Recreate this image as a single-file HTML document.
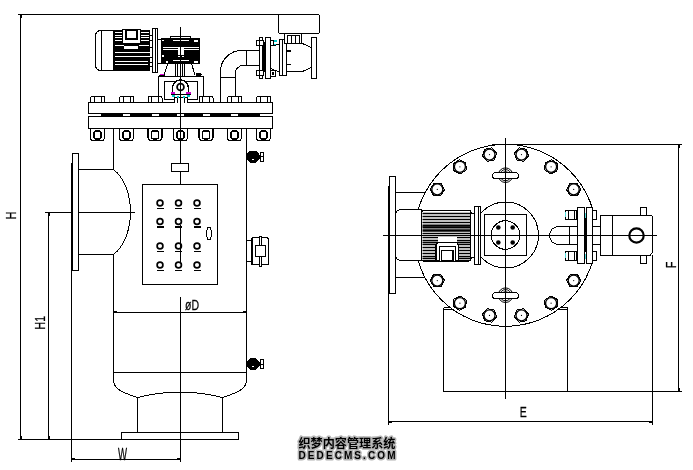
<!DOCTYPE html>
<html><head><meta charset="utf-8"><title>drawing</title>
<style>
html,body{margin:0;padding:0;background:#fff;}
body{width:693px;height:470px;overflow:hidden;font-family:"Liberation Sans","Noto Sans CJK SC",sans-serif;}
svg{display:block;will-change:transform}
svg text{font-family:"Liberation Sans","Noto Sans CJK SC",sans-serif;fill:#000}
</style></head><body>
<svg shape-rendering="crispEdges" width="693" height="470" viewBox="0 0 693 470">
<rect x="0" y="0" width="693" height="470" fill="#fff"/>
<g id="left">
<line x1="20.5" y1="14.5" x2="20.5" y2="439.5" stroke="#000" stroke-width="1" />
<line x1="18" y1="14.5" x2="278.5" y2="14.5" stroke="#000" stroke-width="1" />
<line x1="18" y1="439.5" x2="121.5" y2="439.5" stroke="#000" stroke-width="1" />
<line x1="48.5" y1="212.5" x2="48.5" y2="439.5" stroke="#000" stroke-width="1" />
<line x1="45" y1="212.5" x2="135" y2="212.5" stroke="#000" stroke-width="1" />
<line x1="71.5" y1="163" x2="71.5" y2="462" stroke="#000" stroke-width="1" />
<line x1="71.5" y1="459.5" x2="180.5" y2="459.5" stroke="#000" stroke-width="1" />
<path d="M113.5,128.5 V169.5 M113.5,254.5 V380 C113.5,388 120,392 137.5,397.5 Q160,392 180,392 Q200,392 222.5,397.5 C240,392 246.5,388 246.5,380 V128.5" fill="none" stroke="#000" stroke-width="1" />
<line x1="113.5" y1="372.5" x2="246.5" y2="372.5" stroke="#000" stroke-width="1" />
<line x1="113.5" y1="312.5" x2="246.5" y2="312.5" stroke="#000" stroke-width="1" />
<line x1="137.5" y1="397.5" x2="137.5" y2="432.5" stroke="#000" stroke-width="1" />
<line x1="222.5" y1="397.5" x2="222.5" y2="432.5" stroke="#000" stroke-width="1" />
<rect x="121.5" y="432.5" width="117" height="7" fill="none" stroke="#000" stroke-width="1" rx="0"/>
<rect x="88.5" y="102.5" width="184" height="11" fill="#fff" stroke="#000" stroke-width="1" rx="0"/>
<rect x="88.5" y="116.5" width="184" height="12" fill="#fff" stroke="#000" stroke-width="1" rx="0"/>
<rect x="94" y="113.5" width="173" height="3" fill="#000" stroke="#000" stroke-width="0" rx="0"/>
<rect x="94.0" y="114" width="7" height="2" fill="#fff" stroke="#000" stroke-width="0" rx="0"/>
<rect x="123.0" y="114" width="7" height="2" fill="#fff" stroke="#000" stroke-width="0" rx="0"/>
<rect x="151.5" y="114" width="7" height="2" fill="#fff" stroke="#000" stroke-width="0" rx="0"/>
<rect x="177.0" y="114" width="7" height="2" fill="#fff" stroke="#000" stroke-width="0" rx="0"/>
<rect x="202.5" y="114" width="7" height="2" fill="#fff" stroke="#000" stroke-width="0" rx="0"/>
<rect x="231.0" y="114" width="7" height="2" fill="#fff" stroke="#000" stroke-width="0" rx="0"/>
<rect x="260.0" y="114" width="7" height="2" fill="#fff" stroke="#000" stroke-width="0" rx="0"/>
<path d="M90.5,102.5 V98 Q90.5,96.5 92.0,96.5 H103.0 Q104.5,96.5 104.5,98 V102.5 Z" fill="#fff" stroke="#000" stroke-width="1" />
<line x1="94.0" y1="96.5" x2="94.0" y2="102.5" stroke="#000" stroke-width="1" />
<line x1="101.0" y1="96.5" x2="101.0" y2="102.5" stroke="#000" stroke-width="1" />
<path d="M90.5,128.5 V137 Q90.5,140.5 93.5,140.5 H101.5 Q104.5,140.5 104.5,137 V128.5" fill="#fff" stroke="#000" stroke-width="1.2" />
<rect x="94.0" y="131" width="7" height="8" fill="#fff" stroke="#000" stroke-width="1.3" rx="2"/>
<path d="M119.5,102.5 V98 Q119.5,96.5 121.0,96.5 H132.0 Q133.5,96.5 133.5,98 V102.5 Z" fill="#fff" stroke="#000" stroke-width="1" />
<line x1="123.0" y1="96.5" x2="123.0" y2="102.5" stroke="#000" stroke-width="1" />
<line x1="130.0" y1="96.5" x2="130.0" y2="102.5" stroke="#000" stroke-width="1" />
<path d="M119.5,128.5 V137 Q119.5,140.5 122.5,140.5 H130.5 Q133.5,140.5 133.5,137 V128.5" fill="#fff" stroke="#000" stroke-width="1.2" />
<rect x="123.0" y="131" width="7" height="8" fill="#fff" stroke="#000" stroke-width="1.3" rx="2"/>
<path d="M148,102.5 V98 Q148,96.5 149.5,96.5 H160.5 Q162,96.5 162,98 V102.5 Z" fill="#fff" stroke="#000" stroke-width="1" />
<line x1="151.5" y1="96.5" x2="151.5" y2="102.5" stroke="#000" stroke-width="1" />
<line x1="158.5" y1="96.5" x2="158.5" y2="102.5" stroke="#000" stroke-width="1" />
<path d="M148,128.5 V137 Q148,140.5 151,140.5 H159 Q162,140.5 162,137 V128.5" fill="#fff" stroke="#000" stroke-width="1.2" />
<rect x="151.5" y="131" width="7" height="8" fill="#fff" stroke="#000" stroke-width="1.3" rx="2"/>
<path d="M173.5,102.5 V98 Q173.5,96.5 175.0,96.5 H186.0 Q187.5,96.5 187.5,98 V102.5 Z" fill="#fff" stroke="#000" stroke-width="1" />
<line x1="177.0" y1="96.5" x2="177.0" y2="102.5" stroke="#000" stroke-width="1" />
<line x1="184.0" y1="96.5" x2="184.0" y2="102.5" stroke="#000" stroke-width="1" />
<path d="M173.5,128.5 V137 Q173.5,140.5 176.5,140.5 H184.5 Q187.5,140.5 187.5,137 V128.5" fill="#fff" stroke="#000" stroke-width="1.2" />
<rect x="177.0" y="131" width="7" height="8" fill="#fff" stroke="#000" stroke-width="1.3" rx="2"/>
<path d="M199,102.5 V98 Q199,96.5 200.5,96.5 H211.5 Q213,96.5 213,98 V102.5 Z" fill="#fff" stroke="#000" stroke-width="1" />
<line x1="202.5" y1="96.5" x2="202.5" y2="102.5" stroke="#000" stroke-width="1" />
<line x1="209.5" y1="96.5" x2="209.5" y2="102.5" stroke="#000" stroke-width="1" />
<path d="M199,128.5 V137 Q199,140.5 202,140.5 H210 Q213,140.5 213,137 V128.5" fill="#fff" stroke="#000" stroke-width="1.2" />
<rect x="202.5" y="131" width="7" height="8" fill="#fff" stroke="#000" stroke-width="1.3" rx="2"/>
<path d="M227.5,102.5 V98 Q227.5,96.5 229.0,96.5 H240.0 Q241.5,96.5 241.5,98 V102.5 Z" fill="#fff" stroke="#000" stroke-width="1" />
<line x1="231.0" y1="96.5" x2="231.0" y2="102.5" stroke="#000" stroke-width="1" />
<line x1="238.0" y1="96.5" x2="238.0" y2="102.5" stroke="#000" stroke-width="1" />
<path d="M227.5,128.5 V137 Q227.5,140.5 230.5,140.5 H238.5 Q241.5,140.5 241.5,137 V128.5" fill="#fff" stroke="#000" stroke-width="1.2" />
<rect x="231.0" y="131" width="7" height="8" fill="#fff" stroke="#000" stroke-width="1.3" rx="2"/>
<path d="M256.5,102.5 V98 Q256.5,96.5 258.0,96.5 H269.0 Q270.5,96.5 270.5,98 V102.5 Z" fill="#fff" stroke="#000" stroke-width="1" />
<line x1="260.0" y1="96.5" x2="260.0" y2="102.5" stroke="#000" stroke-width="1" />
<line x1="267.0" y1="96.5" x2="267.0" y2="102.5" stroke="#000" stroke-width="1" />
<path d="M256.5,128.5 V137 Q256.5,140.5 259.5,140.5 H267.5 Q270.5,140.5 270.5,137 V128.5" fill="#fff" stroke="#000" stroke-width="1.2" />
<rect x="260.0" y="131" width="7" height="8" fill="#fff" stroke="#000" stroke-width="1.3" rx="2"/>
<rect x="72.5" y="153.5" width="6" height="117" fill="#fff" stroke="#000" stroke-width="1" rx="0"/>
<path d="M78.5,169.5 H113.5 A30,47.2 0 0 1 113.5,254.5 H78.5" fill="none" stroke="#000" stroke-width="1" />
<rect x="171.5" y="163.5" width="17" height="8" fill="#fff" stroke="#000" stroke-width="1" rx="0"/>
<rect x="142.5" y="184.5" width="75" height="100" fill="#fff" stroke="#000" stroke-width="1" rx="0"/>
<line x1="180.5" y1="225" x2="180.5" y2="262" stroke="#000" stroke-width="1" />
<circle cx="160" cy="203" r="2.9" fill="#fff" stroke="#000" stroke-width="1.7" shape-rendering="geometricPrecision"/>
<rect x="156.5" y="207.5" width="7" height="1.5" fill="#000" stroke="#000" stroke-width="0" rx="0"/>
<circle cx="160" cy="221.5" r="2.9" fill="#fff" stroke="#000" stroke-width="1.7" shape-rendering="geometricPrecision"/>
<rect x="156.5" y="226.0" width="7" height="1.5" fill="#000" stroke="#000" stroke-width="0" rx="0"/>
<circle cx="160" cy="246" r="2.9" fill="#fff" stroke="#000" stroke-width="1.7" shape-rendering="geometricPrecision"/>
<rect x="156.5" y="250.5" width="7" height="1.5" fill="#000" stroke="#000" stroke-width="0" rx="0"/>
<circle cx="160" cy="265" r="2.9" fill="#fff" stroke="#000" stroke-width="1.7" shape-rendering="geometricPrecision"/>
<rect x="156.5" y="269.5" width="7" height="1.5" fill="#000" stroke="#000" stroke-width="0" rx="0"/>
<circle cx="178.5" cy="203" r="2.9" fill="#fff" stroke="#000" stroke-width="1.7" shape-rendering="geometricPrecision"/>
<rect x="175.0" y="207.5" width="7" height="1.5" fill="#000" stroke="#000" stroke-width="0" rx="0"/>
<circle cx="178.5" cy="221.5" r="2.9" fill="#fff" stroke="#000" stroke-width="1.7" shape-rendering="geometricPrecision"/>
<rect x="175.0" y="226.0" width="7" height="1.5" fill="#000" stroke="#000" stroke-width="0" rx="0"/>
<circle cx="178.5" cy="246" r="2.9" fill="#fff" stroke="#000" stroke-width="1.7" shape-rendering="geometricPrecision"/>
<rect x="175.0" y="250.5" width="7" height="1.5" fill="#000" stroke="#000" stroke-width="0" rx="0"/>
<circle cx="178.5" cy="265" r="2.9" fill="#fff" stroke="#000" stroke-width="1.7" shape-rendering="geometricPrecision"/>
<rect x="175.0" y="269.5" width="7" height="1.5" fill="#000" stroke="#000" stroke-width="0" rx="0"/>
<circle cx="197" cy="203" r="2.9" fill="#fff" stroke="#000" stroke-width="1.7" shape-rendering="geometricPrecision"/>
<rect x="193.5" y="207.5" width="7" height="1.5" fill="#000" stroke="#000" stroke-width="0" rx="0"/>
<circle cx="197" cy="221.5" r="2.9" fill="#fff" stroke="#000" stroke-width="1.7" shape-rendering="geometricPrecision"/>
<rect x="193.5" y="226.0" width="7" height="1.5" fill="#000" stroke="#000" stroke-width="0" rx="0"/>
<circle cx="197" cy="246" r="2.9" fill="#fff" stroke="#000" stroke-width="1.7" shape-rendering="geometricPrecision"/>
<rect x="193.5" y="250.5" width="7" height="1.5" fill="#000" stroke="#000" stroke-width="0" rx="0"/>
<circle cx="197" cy="265" r="2.9" fill="#fff" stroke="#000" stroke-width="1.7" shape-rendering="geometricPrecision"/>
<rect x="193.5" y="269.5" width="7" height="1.5" fill="#000" stroke="#000" stroke-width="0" rx="0"/>
<ellipse cx="209" cy="233.5" rx="2.2" ry="6.5" fill="#fff" stroke="#000"/>
<polygon points="250.5,151.0 255.5,151.0 258.5,154.0 258.5,159.0 255.5,162.0 250.5,162.0 247.5,159.0 247.5,154.0" fill="#000" stroke="#000" stroke-width="1"/>
<rect x="258.5" y="154.5" width="2" height="4" fill="#000" stroke="#000" stroke-width="0" rx="0"/>
<rect x="260.5" y="152.0" width="2.5" height="9" fill="#fff" stroke="#000" stroke-width="1" rx="0"/>
<line x1="260.5" y1="156.5" x2="263" y2="156.5" stroke="#000" stroke-width="1" />
<rect x="252" y="158.5" width="2" height="1" fill="#fff" stroke="#000" stroke-width="0" rx="0"/>
<polygon points="250.5,358.5 255.5,358.5 258.5,361.5 258.5,366.5 255.5,369.5 250.5,369.5 247.5,366.5 247.5,361.5" fill="#000" stroke="#000" stroke-width="1"/>
<rect x="258.5" y="362" width="2" height="4" fill="#000" stroke="#000" stroke-width="0" rx="0"/>
<rect x="260.5" y="359.5" width="2.5" height="9" fill="#fff" stroke="#000" stroke-width="1" rx="0"/>
<line x1="260.5" y1="364" x2="263" y2="364" stroke="#000" stroke-width="1" />
<rect x="252" y="366" width="2" height="1" fill="#fff" stroke="#000" stroke-width="0" rx="0"/>
<rect x="246.5" y="240.5" width="5" height="21" fill="#fff" stroke="#000" stroke-width="1" rx="0"/>
<path d="M251.5,264.5 V239 L253,237.5 H267 L268.5,239 V264.5 Z" fill="#fff" stroke="#000" stroke-width="1" />
<line x1="252.5" y1="239" x2="252.5" y2="264.5" stroke="#000" stroke-width="1" />
<rect x="259.5" y="236.5" width="2" height="30" fill="#fff" stroke="#000" stroke-width="1" rx="0"/>
<rect x="255.5" y="245.5" width="10" height="11" fill="#fff" stroke="#000" stroke-width="1" rx="0"/>
<path d="M113.5,30.5 H101 Q95.5,30.5 95.5,36.5 V64.5 Q95.5,70.5 101,70.5 H113.5 Z" fill="#fff" stroke="#000" stroke-width="1" />
<line x1="101.5" y1="30.5" x2="101.5" y2="70.5" stroke="#000" stroke-width="1" />
<rect x="113.5" y="30" width="36" height="41" fill="#000" stroke="#000" stroke-width="0" rx="0"/>
<line x1="115" y1="32.5" x2="121.5" y2="32.5" stroke="#fff" stroke-width="1" />
<line x1="141" y1="32.5" x2="148.5" y2="32.5" stroke="#fff" stroke-width="1" />
<line x1="115" y1="35" x2="121.5" y2="35" stroke="#fff" stroke-width="1" />
<line x1="141" y1="35" x2="148.5" y2="35" stroke="#fff" stroke-width="1" />
<line x1="115" y1="37.5" x2="121.5" y2="37.5" stroke="#fff" stroke-width="1" />
<line x1="141" y1="37.5" x2="148.5" y2="37.5" stroke="#fff" stroke-width="1" />
<line x1="115" y1="40.5" x2="121.5" y2="40.5" stroke="#fff" stroke-width="1" />
<line x1="141" y1="40.5" x2="148.5" y2="40.5" stroke="#fff" stroke-width="1" />
<line x1="114.5" y1="45.5" x2="124" y2="45.5" stroke="#fff" stroke-width="1" />
<line x1="138.5" y1="45.5" x2="149" y2="45.5" stroke="#fff" stroke-width="1" />
<line x1="114.5" y1="52.5" x2="149.5" y2="52.5" stroke="#fff" stroke-width="1" />
<line x1="114.5" y1="56.5" x2="149.5" y2="56.5" stroke="#fff" stroke-width="1" />
<line x1="115" y1="61.5" x2="147.5" y2="61.5" stroke="#fff" stroke-width="1" />
<line x1="115" y1="64.5" x2="147.5" y2="64.5" stroke="#fff" stroke-width="1" />
<rect x="122.5" y="29.5" width="17.5" height="13.5" fill="#fff" stroke="#000" stroke-width="1" rx="0"/>
<rect x="125.5" y="29.5" width="11" height="9.5" fill="#fff" stroke="#000" stroke-width="2" rx="0"/>
<line x1="122.5" y1="29.5" x2="140" y2="29.5" stroke="#000" stroke-width="1" />
<rect x="124" y="45.5" width="14" height="3.5" fill="#fff" stroke="#000" stroke-width="0" rx="0"/>
<rect x="149.5" y="33" width="3" height="35" fill="#fff" stroke="#000" stroke-width="0" rx="0"/>
<line x1="149.5" y1="35" x2="152" y2="35" stroke="#000" stroke-width="1" />
<line x1="149.5" y1="40.5" x2="152" y2="40.5" stroke="#000" stroke-width="1" />
<line x1="149.5" y1="47" x2="152" y2="47" stroke="#000" stroke-width="1" />
<line x1="149.5" y1="57" x2="152" y2="57" stroke="#000" stroke-width="1" />
<line x1="149.5" y1="62.5" x2="152" y2="62.5" stroke="#000" stroke-width="1" />
<line x1="149.5" y1="66" x2="152" y2="66" stroke="#000" stroke-width="1" />
<rect x="152.5" y="28.5" width="5" height="44" fill="#fff" stroke="#000" stroke-width="1" rx="0"/>
<line x1="155.5" y1="28.5" x2="155.5" y2="72.5" stroke="#000" stroke-width="1" />
<rect x="157.5" y="39.5" width="3.5" height="23.5" fill="#fff" stroke="#000" stroke-width="1" rx="0"/>
<rect x="161" y="38" width="39" height="25.5" fill="#000" stroke="#000" stroke-width="0" rx="0"/>
<rect x="169.5" y="36" width="21.5" height="2.5" fill="#000" stroke="#000" stroke-width="0" rx="0"/>
<line x1="171" y1="37.5" x2="189.5" y2="37.5" stroke="#fff" stroke-width="1" />
<line x1="172.5" y1="40.5" x2="188.5" y2="40.5" stroke="#fff" stroke-width="1" />
<line x1="162.5" y1="47.5" x2="199" y2="47.5" stroke="#fff" stroke-width="1" />
<line x1="162.5" y1="49.5" x2="199" y2="49.5" stroke="#fff" stroke-width="1" />
<rect x="178" y="46.5" width="5.5" height="8" fill="#fff" stroke="#000" stroke-width="0" rx="0"/>
<line x1="180.5" y1="46" x2="180.5" y2="55" stroke="#000" stroke-width="1.4" />
<rect x="178" y="55.5" width="2" height="1" fill="#fff" stroke="#000" stroke-width="0" rx="0"/>
<rect x="181.5" y="55.5" width="2" height="1" fill="#fff" stroke="#000" stroke-width="0" rx="0"/>
<line x1="172.5" y1="60.5" x2="188.5" y2="60.5" stroke="#fff" stroke-width="1" />
<rect x="193.5" y="39.5" width="4" height="2" fill="#fff" stroke="#000" stroke-width="0" rx="0"/>
<rect x="193.5" y="60.5" width="4" height="2" fill="#fff" stroke="#000" stroke-width="0" rx="0"/>
<rect x="162" y="39.5" width="1.5" height="1.5" fill="#fff" stroke="#000" stroke-width="0" rx="0"/>
<rect x="165.5" y="60.5" width="2.5" height="2" fill="#fff" stroke="#000" stroke-width="0" rx="0"/>
<rect x="162" y="55" width="1.5" height="1.5" fill="#fff" stroke="#000" stroke-width="0" rx="0"/>
<line x1="168" y1="63.5" x2="164" y2="75" stroke="#000" stroke-width="1" />
<line x1="191.5" y1="63.5" x2="195" y2="75" stroke="#000" stroke-width="1" />
<line x1="175.5" y1="63" x2="175.5" y2="76" stroke="#000" stroke-width="1" />
<line x1="177.5" y1="63" x2="177.5" y2="76" stroke="#000" stroke-width="1" />
<line x1="182.5" y1="63" x2="182.5" y2="76" stroke="#000" stroke-width="1" />
<line x1="184.5" y1="63" x2="184.5" y2="76" stroke="#000" stroke-width="1" />
<rect x="158.5" y="76.5" width="44.5" height="26" fill="#fff" stroke="#000" stroke-width="1" rx="0"/>
<rect x="159.5" y="73.5" width="4.5" height="2" fill="#d0d" stroke="#000" stroke-width="0" rx="0"/>
<line x1="159" y1="75.5" x2="164.5" y2="75.5" stroke="#000" stroke-width="1" />
<rect x="195.5" y="73" width="6" height="3" fill="#000" stroke="#000" stroke-width="0" rx="1"/>
<rect x="164.5" y="81.5" width="32.5" height="18" fill="#fff" stroke="#000" stroke-width="1" rx="0"/>
<path d="M172.5,93 V88 A8,8 0 0 1 188.5,88 V93" fill="#fff" stroke="#000" stroke-width="1.4" />
<circle cx="180.5" cy="87" r="3.4" fill="#fff" stroke="#000" stroke-width="1.8" shape-rendering="geometricPrecision"/>
<rect x="170.5" y="91.5" width="4.5" height="2.5" fill="#c0c" stroke="#000" stroke-width="0" rx="0"/>
<rect x="186" y="91.5" width="4.5" height="2.5" fill="#c0c" stroke="#000" stroke-width="0" rx="0"/>
<line x1="170.5" y1="94.5" x2="190.5" y2="94.5" stroke="#000" stroke-width="1" />
<path d="M148,102.5 V98 Q148,96.5 149.5,96.5 H160.5 Q162,96.5 162,98 V102.5 Z" fill="#fff" stroke="#000" stroke-width="1" />
<line x1="151.5" y1="96.5" x2="151.5" y2="102.5" stroke="#000" stroke-width="1" />
<line x1="158.5" y1="96.5" x2="158.5" y2="102.5" stroke="#000" stroke-width="1" />
<path d="M199,102.5 V98 Q199,96.5 200.5,96.5 H211.5 Q213,96.5 213,98 V102.5 Z" fill="#fff" stroke="#000" stroke-width="1" />
<line x1="202.5" y1="96.5" x2="202.5" y2="102.5" stroke="#000" stroke-width="1" />
<line x1="209.5" y1="96.5" x2="209.5" y2="102.5" stroke="#000" stroke-width="1" />
<path d="M174,102.5 V97.5 H187.5 V102.5" fill="#fff" stroke="#000" stroke-width="1" />
<line x1="177.5" y1="97.5" x2="177.5" y2="102.5" stroke="#000" stroke-width="1" />
<line x1="184" y1="97.5" x2="184" y2="102.5" stroke="#000" stroke-width="1" />
<rect x="172" y="95" width="3" height="1.5" fill="#0cc" stroke="#000" stroke-width="0" rx="0"/>
<rect x="186.5" y="95" width="3" height="1.5" fill="#0cc" stroke="#000" stroke-width="0" rx="0"/>
<rect x="177" y="95.5" width="1.5" height="2" fill="#0cc" stroke="#000" stroke-width="0" rx="0"/>
<rect x="183" y="95.5" width="1.5" height="2" fill="#0cc" stroke="#000" stroke-width="0" rx="0"/>
<path d="M220.5,102.5 V71.5 A21,21 0 0 1 241.5,50.5 H259.5" fill="none" stroke="#000" stroke-width="1" />
<path d="M235.5,102.5 V72.5 A7.5,7.5 0 0 1 243,65.5 H259.5" fill="none" stroke="#000" stroke-width="1" />
<line x1="246.5" y1="50.5" x2="246.5" y2="65.5" stroke="#000" stroke-width="1" />
<line x1="220.5" y1="77.5" x2="235.5" y2="77.5" stroke="#000" stroke-width="1" />
<path d="M227.5,102.5 V98 Q227.5,96.5 229.0,96.5 H240.0 Q241.5,96.5 241.5,98 V102.5 Z" fill="#fff" stroke="#000" stroke-width="1" />
<line x1="231.0" y1="96.5" x2="231.0" y2="102.5" stroke="#000" stroke-width="1" />
<line x1="238.0" y1="96.5" x2="238.0" y2="102.5" stroke="#000" stroke-width="1" />
<rect x="259.5" y="37.5" width="3" height="41" fill="#fff" stroke="#000" stroke-width="1" rx="0"/>
<rect x="256.5" y="40.5" width="7" height="4.5" fill="#fff" stroke="#000" stroke-width="1" rx="0"/>
<rect x="256.5" y="70.5" width="7" height="5" fill="#fff" stroke="#000" stroke-width="1" rx="0"/>
<line x1="259.5" y1="40.5" x2="259.5" y2="45" stroke="#000" stroke-width="1" />
<line x1="259.5" y1="70.5" x2="259.5" y2="75.5" stroke="#000" stroke-width="1" />
<rect x="262.5" y="41.5" width="3" height="30" fill="#000" stroke="#000" stroke-width="0" rx="0"/>
<rect x="265.5" y="37.5" width="4.5" height="41" fill="#fff" stroke="#000" stroke-width="1" rx="0"/>
<rect x="270" y="40" width="3.5" height="5" fill="#fff" stroke="#000" stroke-width="1" rx="0"/>
<rect x="270" y="70.5" width="5" height="5.5" fill="#fff" stroke="#000" stroke-width="1" rx="0"/>
<rect x="271.5" y="72" width="2.5" height="3" fill="#000" stroke="#000" stroke-width="0" rx="0"/>
<rect x="273.5" y="40" width="3" height="1.5" fill="#0cc" stroke="#000" stroke-width="0" rx="0"/>
<rect x="273.5" y="43.5" width="3" height="1.5" fill="#0cc" stroke="#000" stroke-width="0" rx="0"/>
<path d="M270,45.5 Q275,45.5 279.5,44.5" fill="none" stroke="#000" stroke-width="1" />
<path d="M270,66.5 Q271,70 279.5,71.5" fill="none" stroke="#000" stroke-width="1" />
<path d="M286.5,43.5 H301 Q306,44 311.5,48 V67 Q306,71 301,71.5 H286.5 Z" fill="#fff" stroke="#000" stroke-width="1" />
<rect x="279.5" y="39.5" width="7" height="36" fill="#fff" stroke="#000" stroke-width="1" rx="0"/>
<line x1="282.5" y1="39.5" x2="282.5" y2="75.5" stroke="#000" stroke-width="1" />
<line x1="287" y1="51" x2="291" y2="51" stroke="#000" stroke-width="1.5" />
<line x1="287" y1="64.5" x2="291" y2="64.5" stroke="#000" stroke-width="1.5" />
<rect x="311.5" y="37.5" width="5" height="41" fill="#fff" stroke="#000" stroke-width="1" rx="0"/>
<rect x="284.5" y="33.5" width="16.5" height="9.5" fill="#fff" stroke="#000" stroke-width="1" rx="0"/>
<rect x="287" y="35.5" width="4.5" height="7.5" fill="#fff" stroke="#000" stroke-width="1" rx="0"/>
<rect x="291.5" y="35.5" width="4" height="7.5" fill="#fff" stroke="#000" stroke-width="1" rx="0"/>
<rect x="295.5" y="35.5" width="4" height="7.5" fill="#fff" stroke="#000" stroke-width="1" rx="0"/>
<rect x="278.5" y="14.5" width="41" height="19" fill="#fff" stroke="#000" stroke-width="1" rx="2"/>
<line x1="180.5" y1="27" x2="180.5" y2="163.5" stroke="#000" stroke-width="1" />
<line x1="180.5" y1="171.5" x2="180.5" y2="184.5" stroke="#000" stroke-width="1" />
<line x1="180.5" y1="225" x2="180.5" y2="262" stroke="#000" stroke-width="1" />
<line x1="180.5" y1="297" x2="180.5" y2="462" stroke="#000" stroke-width="1" />
</g>
<g id="right">
<path d="M443.5,307.5 V391.5 H682" fill="none" stroke="#000" stroke-width="1" />
<line x1="567.5" y1="307.5" x2="567.5" y2="391.5" stroke="#000" stroke-width="1" />
<line x1="443.5" y1="307.5" x2="456" y2="307.5" stroke="#000" stroke-width="1" />
<line x1="443.5" y1="309" x2="456" y2="309" stroke="#000" stroke-width="1" />
<line x1="555" y1="307.5" x2="567.5" y2="307.5" stroke="#000" stroke-width="1" />
<line x1="555" y1="309" x2="567.5" y2="309" stroke="#000" stroke-width="1" />
<line x1="395.5" y1="192.5" x2="430" y2="192.5" stroke="#000" stroke-width="1" />
<line x1="395.5" y1="277.5" x2="430" y2="277.5" stroke="#000" stroke-width="1" />
<ellipse cx="505.5" cy="235.3" rx="91" ry="91" fill="#fff" stroke="#000"/>
<rect x="389.5" y="176.5" width="6" height="117" fill="#fff" stroke="#000" stroke-width="1" rx="0"/>
<line x1="388.5" y1="186" x2="388.5" y2="425" stroke="#000" stroke-width="1" />
<line x1="388.5" y1="421.5" x2="652.5" y2="421.5" stroke="#000" stroke-width="1" />
<line x1="652.5" y1="255" x2="652.5" y2="425" stroke="#000" stroke-width="1" />
<line x1="492" y1="144.5" x2="682" y2="144.5" stroke="#000" stroke-width="1" />
<line x1="678.5" y1="144.5" x2="678.5" y2="391.5" stroke="#000" stroke-width="1" />
<polygon points="528.5,156.0 523.8,161.3 516.8,159.9 514.5,153.2 519.2,147.9 526.2,149.2" fill="#fff" stroke="#000" stroke-width="1"/>
<circle cx="521.5" cy="154.6" r="5.5" fill="#fff" stroke="#000" stroke-width="1.3" shape-rendering="geometricPrecision"/>
<circle cx="521.5" cy="154.6" r="0.6" fill="#000" stroke="#000" stroke-width="0" shape-rendering="geometricPrecision"/>
<polygon points="557.0,170.8 550.6,173.9 544.7,170.0 545.2,162.9 551.5,159.7 557.4,163.7" fill="#fff" stroke="#000" stroke-width="1"/>
<circle cx="551.1" cy="166.8" r="5.5" fill="#fff" stroke="#000" stroke-width="1.3" shape-rendering="geometricPrecision"/>
<circle cx="551.1" cy="166.8" r="0.6" fill="#000" stroke="#000" stroke-width="0" shape-rendering="geometricPrecision"/>
<polygon points="577.6,195.3 570.5,195.8 566.6,189.9 569.7,183.5 576.8,183.1 580.8,189.0" fill="#fff" stroke="#000" stroke-width="1"/>
<circle cx="573.7" cy="189.4" r="5.5" fill="#fff" stroke="#000" stroke-width="1.3" shape-rendering="geometricPrecision"/>
<circle cx="573.7" cy="189.4" r="0.6" fill="#000" stroke="#000" stroke-width="0" shape-rendering="geometricPrecision"/>
<polygon points="569.7,286.5 566.6,280.1 570.5,274.2 577.6,274.7 580.8,281.0 576.8,286.9" fill="#fff" stroke="#000" stroke-width="1"/>
<circle cx="573.7" cy="280.6" r="5.5" fill="#fff" stroke="#000" stroke-width="1.3" shape-rendering="geometricPrecision"/>
<circle cx="573.7" cy="280.6" r="0.6" fill="#000" stroke="#000" stroke-width="0" shape-rendering="geometricPrecision"/>
<polygon points="545.2,307.1 544.7,300.0 550.6,296.1 557.0,299.2 557.4,306.3 551.5,310.3" fill="#fff" stroke="#000" stroke-width="1"/>
<circle cx="551.1" cy="303.2" r="5.5" fill="#fff" stroke="#000" stroke-width="1.3" shape-rendering="geometricPrecision"/>
<circle cx="551.1" cy="303.2" r="0.6" fill="#000" stroke="#000" stroke-width="0" shape-rendering="geometricPrecision"/>
<polygon points="514.5,316.8 516.8,310.1 523.8,308.7 528.5,314.0 526.2,320.8 519.2,322.1" fill="#fff" stroke="#000" stroke-width="1"/>
<circle cx="521.5" cy="315.4" r="5.5" fill="#fff" stroke="#000" stroke-width="1.3" shape-rendering="geometricPrecision"/>
<circle cx="521.5" cy="315.4" r="0.6" fill="#000" stroke="#000" stroke-width="0" shape-rendering="geometricPrecision"/>
<polygon points="482.5,314.0 487.2,308.7 494.2,310.1 496.5,316.8 491.8,322.1 484.8,320.8" fill="#fff" stroke="#000" stroke-width="1"/>
<circle cx="489.5" cy="315.4" r="5.5" fill="#fff" stroke="#000" stroke-width="1.3" shape-rendering="geometricPrecision"/>
<circle cx="489.5" cy="315.4" r="0.6" fill="#000" stroke="#000" stroke-width="0" shape-rendering="geometricPrecision"/>
<polygon points="454.0,299.2 460.4,296.1 466.3,300.0 465.8,307.1 459.5,310.3 453.6,306.3" fill="#fff" stroke="#000" stroke-width="1"/>
<circle cx="459.9" cy="303.2" r="5.5" fill="#fff" stroke="#000" stroke-width="1.3" shape-rendering="geometricPrecision"/>
<circle cx="459.9" cy="303.2" r="0.6" fill="#000" stroke="#000" stroke-width="0" shape-rendering="geometricPrecision"/>
<polygon points="433.4,274.7 440.5,274.2 444.4,280.1 441.3,286.5 434.2,286.9 430.2,281.0" fill="#fff" stroke="#000" stroke-width="1"/>
<circle cx="437.3" cy="280.6" r="5.5" fill="#fff" stroke="#000" stroke-width="1.3" shape-rendering="geometricPrecision"/>
<circle cx="437.3" cy="280.6" r="0.6" fill="#000" stroke="#000" stroke-width="0" shape-rendering="geometricPrecision"/>
<polygon points="441.3,183.5 444.4,189.9 440.5,195.8 433.4,195.3 430.2,189.0 434.2,183.1" fill="#fff" stroke="#000" stroke-width="1"/>
<circle cx="437.3" cy="189.4" r="5.5" fill="#fff" stroke="#000" stroke-width="1.3" shape-rendering="geometricPrecision"/>
<circle cx="437.3" cy="189.4" r="0.6" fill="#000" stroke="#000" stroke-width="0" shape-rendering="geometricPrecision"/>
<polygon points="465.8,162.9 466.3,170.0 460.4,173.9 454.0,170.8 453.6,163.7 459.5,159.7" fill="#fff" stroke="#000" stroke-width="1"/>
<circle cx="459.9" cy="166.8" r="5.5" fill="#fff" stroke="#000" stroke-width="1.3" shape-rendering="geometricPrecision"/>
<circle cx="459.9" cy="166.8" r="0.6" fill="#000" stroke="#000" stroke-width="0" shape-rendering="geometricPrecision"/>
<polygon points="496.5,153.2 494.2,159.9 487.2,161.3 482.5,156.0 484.8,149.2 491.8,147.9" fill="#fff" stroke="#000" stroke-width="1"/>
<circle cx="489.5" cy="154.6" r="5.5" fill="#fff" stroke="#000" stroke-width="1.3" shape-rendering="geometricPrecision"/>
<circle cx="489.5" cy="154.6" r="0.6" fill="#000" stroke="#000" stroke-width="0" shape-rendering="geometricPrecision"/>
<circle cx="505.5" cy="175.2" r="7.3" fill="none" stroke="#000" stroke-width="1" shape-rendering="geometricPrecision"/>
<circle cx="505.5" cy="175.2" r="5.6" fill="none" stroke="#000" stroke-width="1" shape-rendering="geometricPrecision"/>
<circle cx="505.5" cy="175.2" r="3.6" fill="none" stroke="#000" stroke-width="1" shape-rendering="geometricPrecision"/>
<rect x="492.5" y="172.5" width="26" height="6" fill="#fff" stroke="#000" stroke-width="1" rx="3"/>
<circle cx="505.5" cy="295.2" r="7.3" fill="none" stroke="#000" stroke-width="1" shape-rendering="geometricPrecision"/>
<circle cx="505.5" cy="295.2" r="5.6" fill="none" stroke="#000" stroke-width="1" shape-rendering="geometricPrecision"/>
<circle cx="505.5" cy="295.2" r="3.6" fill="none" stroke="#000" stroke-width="1" shape-rendering="geometricPrecision"/>
<rect x="492.5" y="292.5" width="26" height="6" fill="#fff" stroke="#000" stroke-width="1" rx="3"/>
<circle cx="505.5" cy="235.0" r="33" fill="#fff" stroke="#000" stroke-width="1"/>
<rect x="484.5" y="214.5" width="42" height="41" fill="#fff" stroke="#000" stroke-width="1" rx="0"/>
<circle cx="505.5" cy="235.0" r="14.3" fill="#fff" stroke="#000" stroke-width="1"/>
<circle cx="498.3" cy="227.5" r="2.3" fill="#000" stroke="#000" stroke-width="0" shape-rendering="geometricPrecision"/>
<circle cx="498.3" cy="242.5" r="2.3" fill="#000" stroke="#000" stroke-width="0" shape-rendering="geometricPrecision"/>
<circle cx="512.7" cy="227.5" r="2.3" fill="#000" stroke="#000" stroke-width="0" shape-rendering="geometricPrecision"/>
<circle cx="512.7" cy="242.5" r="2.3" fill="#000" stroke="#000" stroke-width="0" shape-rendering="geometricPrecision"/>
<path d="M421.5,209.5 H402 Q395.5,209.5 395.5,216 V254 Q395.5,260.5 402,260.5 H421.5 Z" fill="#fff" stroke="#000" stroke-width="1" />
<rect x="421.5" y="210.5" width="49.5" height="50.5" fill="#fff" stroke="#000" stroke-width="1.2" rx="2.5"/>
<line x1="422.5" y1="213.5" x2="470" y2="213.5" stroke="#000" stroke-width="1.5499999999999998" shape-rendering="geometricPrecision"/>
<line x1="422.5" y1="216.5" x2="470" y2="216.5" stroke="#000" stroke-width="1.5499999999999998" shape-rendering="geometricPrecision"/>
<line x1="422.5" y1="219.5" x2="470" y2="219.5" stroke="#000" stroke-width="1.5499999999999998" shape-rendering="geometricPrecision"/>
<line x1="422.5" y1="222.5" x2="470" y2="222.5" stroke="#000" stroke-width="1.65" shape-rendering="geometricPrecision"/>
<line x1="422.5" y1="225.5" x2="470" y2="225.5" stroke="#000" stroke-width="2.25" shape-rendering="geometricPrecision"/>
<line x1="422.5" y1="227.5" x2="470" y2="227.5" stroke="#000" stroke-width="1.9500000000000002" shape-rendering="geometricPrecision"/>
<line x1="422.5" y1="230.5" x2="470" y2="230.5" stroke="#000" stroke-width="2.65" shape-rendering="geometricPrecision"/>
<line x1="422.5" y1="233.5" x2="470" y2="233.5" stroke="#000" stroke-width="1.5499999999999998" shape-rendering="geometricPrecision"/>
<line x1="422.5" y1="237.5" x2="470" y2="237.5" stroke="#000" stroke-width="1.5499999999999998" shape-rendering="geometricPrecision"/>
<line x1="422.5" y1="240.5" x2="470" y2="240.5" stroke="#000" stroke-width="1.5499999999999998" shape-rendering="geometricPrecision"/>
<line x1="422.5" y1="242.5" x2="470" y2="242.5" stroke="#000" stroke-width="1.5499999999999998" shape-rendering="geometricPrecision"/>
<line x1="422.5" y1="244.5" x2="470" y2="244.5" stroke="#000" stroke-width="1.5499999999999998" shape-rendering="geometricPrecision"/>
<line x1="422.5" y1="247.5" x2="470" y2="247.5" stroke="#000" stroke-width="1.5499999999999998" shape-rendering="geometricPrecision"/>
<line x1="422.5" y1="250.5" x2="470" y2="250.5" stroke="#000" stroke-width="1.5499999999999998" shape-rendering="geometricPrecision"/>
<line x1="422.5" y1="253.5" x2="470" y2="253.5" stroke="#000" stroke-width="1.5499999999999998" shape-rendering="geometricPrecision"/>
<line x1="422.5" y1="256.5" x2="470" y2="256.5" stroke="#000" stroke-width="1.5499999999999998" shape-rendering="geometricPrecision"/>
<line x1="422.5" y1="258.5" x2="470" y2="258.5" stroke="#000" stroke-width="1.5499999999999998" shape-rendering="geometricPrecision"/>
<rect x="438" y="237" width="18.5" height="4.5" fill="#fff" stroke="#000" stroke-width="0" rx="0"/>
<path d="M438,242.5 H456.5 L458.5,245 V261 H436 V245 Z" fill="#fff" stroke="#000" stroke-width="1.2" />
<rect x="439" y="246" width="16.5" height="15" fill="#fff" stroke="#000" stroke-width="1" rx="0"/>
<rect x="441.5" y="250.5" width="11.5" height="10.5" fill="#fff" stroke="#000" stroke-width="1.4" rx="0"/>
<rect x="470.8" y="213.5" width="4" height="44" fill="#fff" stroke="#000" stroke-width="0" rx="0"/>
<line x1="470.5" y1="213.5" x2="474.5" y2="213.5" stroke="#000" stroke-width="1" />
<line x1="470.5" y1="257.5" x2="474.5" y2="257.5" stroke="#000" stroke-width="1" />
<rect x="474.5" y="206.5" width="5.5" height="58" fill="#fff" stroke="#000" stroke-width="1" rx="0"/>
<line x1="478.5" y1="206.5" x2="478.5" y2="264.5" stroke="#000" stroke-width="1" />
<rect x="592.5" y="205" width="6" height="61" fill="#fff" stroke="#000" stroke-width="0" rx="0"/>
<path d="M577.5,226.5 H558.5 A9,9 0 0 0 558.5,244.5 H577.5 Z" fill="#fff" stroke="#000" stroke-width="1" />
<line x1="569.5" y1="226.5" x2="569.5" y2="244.5" stroke="#000" stroke-width="1" />
<rect x="565.5" y="210.5" width="11" height="8.5" fill="#fff" stroke="#000" stroke-width="1" rx="0"/>
<rect x="568.5" y="210.0" width="6" height="9.5" fill="#fff" stroke="#000" stroke-width="1" rx="0"/>
<rect x="592.5" y="210.5" width="4" height="8.5" fill="#fff" stroke="#000" stroke-width="1" rx="0"/>
<rect x="564.5" y="212.0" width="1.5" height="5" fill="#5dd" stroke="#000" stroke-width="0" rx="0"/>
<rect x="583.5" y="212.5" width="2" height="5" fill="#5dd" stroke="#000" stroke-width="0" rx="0"/>
<rect x="565.5" y="251.5" width="11" height="8.5" fill="#fff" stroke="#000" stroke-width="1" rx="0"/>
<rect x="568.5" y="251.0" width="6" height="9.5" fill="#fff" stroke="#000" stroke-width="1" rx="0"/>
<rect x="592.5" y="251.5" width="4" height="8.5" fill="#fff" stroke="#000" stroke-width="1" rx="0"/>
<rect x="564.5" y="253.0" width="1.5" height="5" fill="#5dd" stroke="#000" stroke-width="0" rx="0"/>
<rect x="583.5" y="253.5" width="2" height="5" fill="#5dd" stroke="#000" stroke-width="0" rx="0"/>
<rect x="577.5" y="207.5" width="6.5" height="56" fill="#fff" stroke="#000" stroke-width="1" rx="0"/>
<rect x="584" y="218" width="2.5" height="34" fill="#000" stroke="#000" stroke-width="0" rx="0"/>
<rect x="586.5" y="207.5" width="6" height="56" fill="#fff" stroke="#000" stroke-width="1" rx="0"/>
<rect x="592.5" y="226.5" width="8" height="18" fill="#fff" stroke="#000" stroke-width="1" rx="0"/>
<rect x="640.5" y="207.5" width="6" height="56" fill="#fff" stroke="#000" stroke-width="1" rx="0"/>
<path d="M600.5,215.5 H650 Q652.5,215.5 652.5,218 V252.5 L650,255.5 H600.5 Z" fill="#fff" stroke="#000" stroke-width="1" />
<line x1="612.5" y1="215.5" x2="612.5" y2="255.5" stroke="#000" stroke-width="1" />
<circle cx="636.5" cy="235.5" r="7.2" fill="#fff" stroke="#000" stroke-width="2.2" shape-rendering="geometricPrecision"/>
<line x1="382.5" y1="235.5" x2="656.5" y2="235.5" stroke="#000" stroke-width="1" />
<line x1="505.5" y1="137.5" x2="505.5" y2="399" stroke="#000" stroke-width="1" />
</g>
<rect x="21" y="15" width="1" height="3" fill="#000" stroke="#000" stroke-width="0" rx="0"/>
<rect x="21" y="436" width="1" height="3" fill="#000" stroke="#000" stroke-width="0" rx="0"/>
<rect x="49" y="213" width="1" height="3" fill="#000" stroke="#000" stroke-width="0" rx="0"/>
<rect x="49" y="436" width="1" height="3" fill="#000" stroke="#000" stroke-width="0" rx="0"/>
<rect x="72" y="458" width="3" height="1" fill="#000" stroke="#000" stroke-width="0" rx="0"/>
<rect x="177" y="458" width="3" height="1" fill="#000" stroke="#000" stroke-width="0" rx="0"/>
<rect x="114" y="311" width="3" height="1" fill="#000" stroke="#000" stroke-width="0" rx="0"/>
<rect x="243" y="311" width="3" height="1" fill="#000" stroke="#000" stroke-width="0" rx="0"/>
<rect x="389" y="422" width="3" height="1" fill="#000" stroke="#000" stroke-width="0" rx="0"/>
<rect x="649" y="422" width="3" height="1" fill="#000" stroke="#000" stroke-width="0" rx="0"/>
<rect x="679" y="145" width="1" height="3" fill="#000" stroke="#000" stroke-width="0" rx="0"/>
<rect x="679" y="388" width="1" height="3" fill="#000" stroke="#000" stroke-width="0" rx="0"/>
<text transform="translate(16,215.5) rotate(-90) scale(0.68,1)" font-size="15.5" text-anchor="middle" font-weight="normal" stroke="#000" stroke-width="0.25" >H</text>
<text transform="translate(45,322.7) rotate(-90) scale(0.68,1)" font-size="15.5" text-anchor="middle" font-weight="normal" stroke="#000" stroke-width="0.25" >H1</text>
<text transform="translate(676.2,264.8) rotate(-90) scale(0.68,1)" font-size="15.5" text-anchor="middle" font-weight="normal" stroke="#000" stroke-width="0.25" >F</text>
<text transform="translate(122.4,459.8) rotate(0) scale(0.58,1)" font-size="16.5" text-anchor="middle" font-weight="normal" stroke="#000" stroke-width="0.25" >W</text>
<text transform="translate(192,309.5) rotate(0) scale(0.68,1)" font-size="15.5" text-anchor="middle" font-weight="normal" stroke="#000" stroke-width="0.25" >øD</text>
<text transform="translate(523.2,416.8) rotate(0) scale(0.68,1)" font-size="15.5" text-anchor="middle" font-weight="normal" stroke="#000" stroke-width="0.25" >E</text>
<g font-weight="bold" text-anchor="start" stroke="#b4b4b4" stroke-width="3" stroke-linejoin="round" paint-order="stroke" fill="#000">
<text x="298.5" y="447.5" font-size="12" textLength="97" lengthAdjust="spacingAndGlyphs">织梦内容管理系统</text>
<text x="298.5" y="459" font-size="10" textLength="97" lengthAdjust="spacing">DEDECMS.COM</text>
</g>
</svg>
</body></html>
